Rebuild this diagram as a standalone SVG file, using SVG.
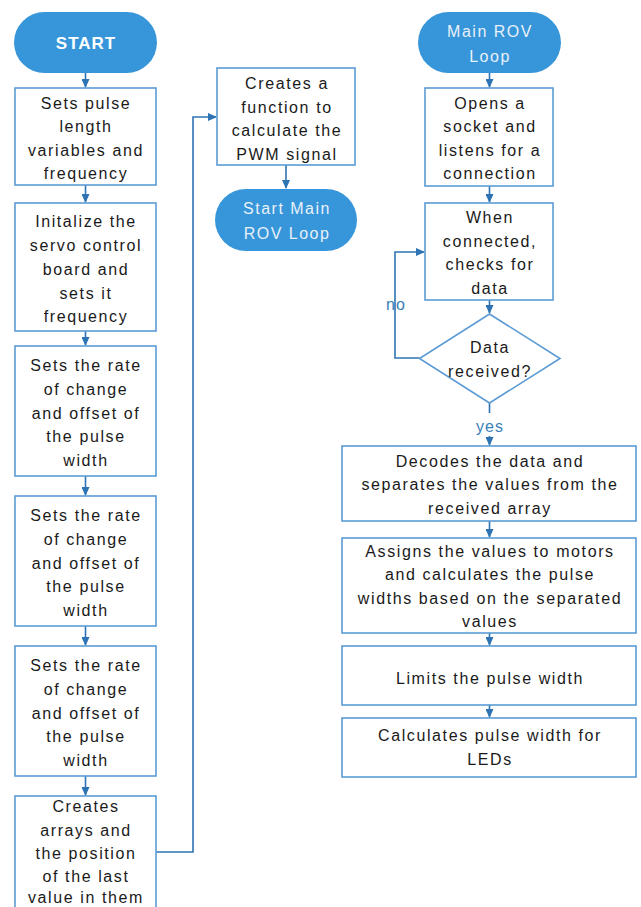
<svg xmlns="http://www.w3.org/2000/svg" width="641" height="907" viewBox="0 0 641 907">
<defs>
<marker id="ah" markerWidth="9" markerHeight="8" refX="8" refY="4" orient="auto" markerUnits="userSpaceOnUse">
<path d="M0,0 L9,4 L0,8 Z" fill="#2e74b5"/>
</marker>
<style>
.box{fill:#ffffff;stroke:#5b9bd5;stroke-width:1.6}
.term{fill:#3796d9;stroke:none}
.t{font-family:"Liberation Sans",Arial,sans-serif;font-size:16px;fill:#1a1a1a;text-anchor:middle;letter-spacing:1.6px}
.tw{font-family:"Liberation Sans",Arial,sans-serif;font-size:16px;fill:#e8f1fa;text-anchor:middle;letter-spacing:1.5px}
.c{fill:none;stroke:#2e74b5;stroke-width:1.6}
.lbl{font-family:"Liberation Sans",Arial,sans-serif;font-size:16px;fill:#3a7fb8;text-anchor:middle;letter-spacing:1px}
</style>
</defs>
<rect width="641" height="907" fill="#ffffff"/>

<g id="connectors">
<path class="c" d="M85.5,73 V87" marker-end="url(#ah)"/>
<path class="c" d="M85.5,185 V202" marker-end="url(#ah)"/>
<path class="c" d="M85.5,331 V345" marker-end="url(#ah)"/>
<path class="c" d="M85.5,476 V495" marker-end="url(#ah)"/>
<path class="c" d="M85.5,626 V645" marker-end="url(#ah)"/>
<path class="c" d="M85.5,776 V795" marker-end="url(#ah)"/>
<path class="c" d="M156,852 H193 V117 H216" marker-end="url(#ah)"/>
<path class="c" d="M286,165 V188" marker-end="url(#ah)"/>
<path class="c" d="M489.5,73 V87" marker-end="url(#ah)"/>
<path class="c" d="M489.5,186 V202" marker-end="url(#ah)"/>
<path class="c" d="M489.5,300 V313" marker-end="url(#ah)"/>
<path class="c" d="M419.5,358 H395 V252 H424" marker-end="url(#ah)"/>
<path class="c" d="M489.5,403 V413"/>
<path class="c" d="M489.5,436 V445" marker-end="url(#ah)"/>
<path class="c" d="M489.5,521 V537" marker-end="url(#ah)"/>
<path class="c" d="M489.5,633 V645" marker-end="url(#ah)"/>
<path class="c" d="M489.5,705 V717" marker-end="url(#ah)"/>
<text class="lbl" x="396" y="310">no</text>
<text class="lbl" x="490" y="432">yes</text>
</g>

<g id="start">
<rect class="term" x="14" y="12" width="143" height="61" rx="30.5"/>
<text x="86" y="49" font-family="'Liberation Sans',Arial,sans-serif" font-size="17" font-weight="bold" fill="#ffffff" text-anchor="middle" letter-spacing="1">START</text>
</g>

<g id="n1">
<rect class="box" x="15" y="88" width="141" height="97"/>
<text class="t" x="86" y="108.5">Sets pulse</text>
<text class="t" x="86" y="132">length</text>
<text class="t" x="86" y="155.5">variables and</text>
<text class="t" x="86" y="179">frequency</text>
</g>

<g id="n2">
<rect class="box" x="15" y="203" width="141" height="128"/>
<text class="t" x="86" y="227">Initalize the</text>
<text class="t" x="86" y="251">servo control</text>
<text class="t" x="86" y="275">board and</text>
<text class="t" x="86" y="298.5">sets it</text>
<text class="t" x="86" y="322">frequency</text>
</g>

<g id="n3">
<rect class="box" x="15" y="346" width="141" height="130"/>
<text class="t" x="86" y="371">Sets the rate</text>
<text class="t" x="86" y="394.75">of change</text>
<text class="t" x="86" y="418.5">and offset of</text>
<text class="t" x="86" y="442.25">the pulse</text>
<text class="t" x="86" y="466">width</text>
</g>

<g id="n4">
<rect class="box" x="15" y="496" width="141" height="130"/>
<text class="t" x="86" y="521">Sets the rate</text>
<text class="t" x="86" y="544.75">of change</text>
<text class="t" x="86" y="568.5">and offset of</text>
<text class="t" x="86" y="592.25">the pulse</text>
<text class="t" x="86" y="616">width</text>
</g>

<g id="n5">
<rect class="box" x="15" y="646" width="141" height="130"/>
<text class="t" x="86" y="671">Sets the rate</text>
<text class="t" x="86" y="694.75">of change</text>
<text class="t" x="86" y="718.5">and offset of</text>
<text class="t" x="86" y="742.25">the pulse</text>
<text class="t" x="86" y="766">width</text>
</g>

<g id="n6">
<rect class="box" x="15" y="796" width="141" height="140"/>
<text class="t" x="86" y="812">Creates</text>
<text class="t" x="86" y="835.5">arrays and</text>
<text class="t" x="86" y="859">the position</text>
<text class="t" x="86" y="882">of the last</text>
<text class="t" x="86" y="903">value in them</text>
</g>

<g id="n7">
<rect class="box" x="217" y="68" width="138" height="97"/>
<text class="t" x="287" y="89">Creates a</text>
<text class="t" x="287" y="112.5">function to</text>
<text class="t" x="287" y="136">calculate the</text>
<text class="t" x="287" y="159.5">PWM signal</text>
</g>

<g id="startmain">
<rect class="term" x="215" y="189" width="142" height="62" rx="31"/>
<text class="tw" x="287" y="214">Start Main</text>
<text class="tw" x="287" y="239">ROV Loop</text>
</g>

<g id="mainloop">
<rect class="term" x="418" y="12" width="143" height="61" rx="30.5"/>
<text class="tw" x="490" y="36.5">Main ROV</text>
<text class="tw" x="490" y="62">Loop</text>
</g>

<g id="opens">
<rect class="box" x="425" y="88" width="128" height="98"/>
<text class="t" x="490" y="108.5">Opens a</text>
<text class="t" x="490" y="132">socket and</text>
<text class="t" x="490" y="155.5">listens for a</text>
<text class="t" x="490" y="179">connection</text>
</g>

<g id="checks">
<rect class="box" x="425" y="203" width="128" height="97"/>
<text class="t" x="490" y="223">When</text>
<text class="t" x="490" y="246.5">connected,</text>
<text class="t" x="490" y="270">checks for</text>
<text class="t" x="490" y="293.5">data</text>
</g>

<g id="decision">
<polygon class="box" points="489.5,314 560,358.5 489.5,403 419.5,358.5"/>
<text class="t" x="490" y="353">Data</text>
<text class="t" x="490" y="377">received?</text>
</g>

<g id="decodes">
<rect class="box" x="342" y="446" width="294" height="75"/>
<text class="t" x="490" y="466.5">Decodes the data and</text>
<text class="t" x="490" y="490">separates the values from the</text>
<text class="t" x="490" y="513.5">received array</text>
</g>

<g id="assigns">
<rect class="box" x="342" y="538" width="294" height="95"/>
<text class="t" x="490" y="556.5">Assigns the values to motors</text>
<text class="t" x="490" y="580">and calculates the pulse</text>
<text class="t" x="490" y="603.5">widths based on the separated</text>
<text class="t" x="490" y="627">values</text>
</g>

<g id="limits">
<rect class="box" x="342" y="646" width="294" height="59"/>
<text class="t" x="490" y="684">Limits the pulse width</text>
</g>

<g id="leds">
<rect class="box" x="342" y="718" width="294" height="59"/>
<text class="t" x="490" y="740.5">Calculates pulse width for</text>
<text class="t" x="490" y="764.5">LEDs</text>
</g>
</svg>
